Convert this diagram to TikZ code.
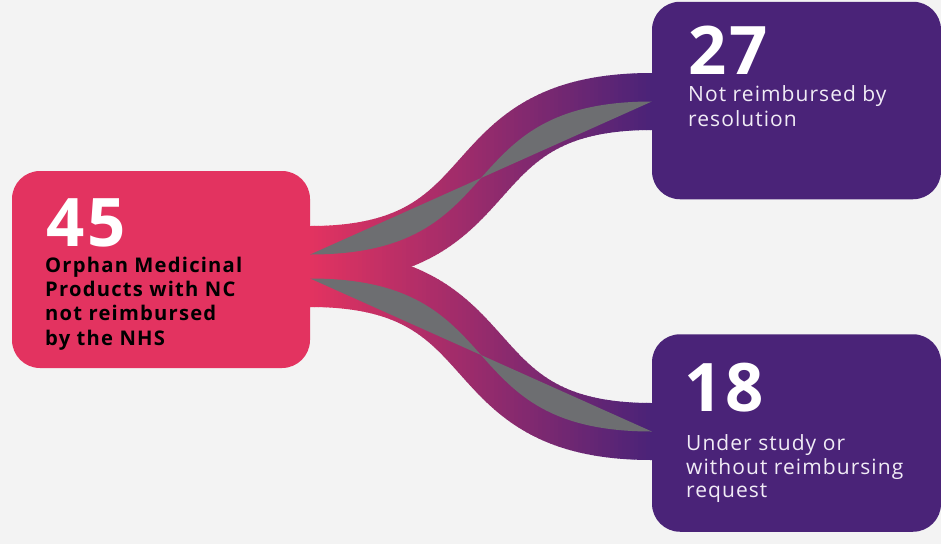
\documentclass[tikz,border=0pt]{standalone}
\usepackage{fontspec}
\setmainfont{Open Sans}
\usetikzlibrary{calc,backgrounds}
\definecolor{bgc}{HTML}{F3F3F3}
\definecolor{pinkc}{HTML}{E33360}
\definecolor{purpc}{HTML}{4A2378}
\definecolor{grayc}{HTML}{6D6E71}
\definecolor{lighttxt}{HTML}{F1ECF6}
\tikzset{
  box/.style={rounded corners=28pt, inner sep=0pt, draw=none},
  num/.style={anchor=base west, inner sep=0pt, text=white, text depth=0pt,
    font=\fontsize{67}{67}\selectfont\bfseries\addfontfeatures{LetterSpace=5}},
  dlbl/.style={anchor=base west, inner sep=0pt, text=black, text height=15pt,
    font=\fontsize{20.2}{24}\selectfont\bfseries\addfontfeatures{LetterSpace=6}},
  wlbl/.style={anchor=base west, inner sep=0pt, text=lighttxt, text height=16pt,
    font=\fontsize{21}{24}\selectfont\addfontfeatures{LetterSpace=5}},
}
\begin{document}
\begin{tikzpicture}[x=1pt,y=-1pt]
\useasboundingbox (0,0) rectangle (941,544);
% boxes
\node[box, fill=pinkc, minimum width=298pt, minimum height=197pt] (src) at (161,269.5) {};
\node[box, fill=purpc, minimum width=289pt, minimum height=197.5pt] (r1) at (796.5,100.5) {};
\node[box, fill=purpc, minimum width=289pt, minimum height=197.5pt] (r2) at (796.5,433) {};
% band end points
\coordinate (t0) at (src.east |- {(0,254.5)});
\coordinate (t1) at (r1.west |- {(0,101.5)});
\coordinate (b0) at (src.east |- {(0,278.5)});
\coordinate (b1) at (r2.west |- {(0,431.5)});
\begin{pgfonlayer}{background}
\fill[bgc] (0,0) rectangle (941,544);
\foreach \i in {0,...,87} {
  \pgfmathsetmacro\xa{306+4*\i}
  \pgfmathsetmacro\xb{\xa+4.7}
  \pgfmathsetmacro\p{max(0,min(100,(\xa+2-310)/3.42))}
  \begin{scope}
    \clip (\xa,0) rectangle (\xb,544);
    \draw[line width=57pt, purpc!\p!pinkc]
      ($(t0)+(-8,0)$) -- (t0) .. controls ($(t0)+(205,0)$) and ($(t1)+(-205,0)$) .. (t1) -- ($(t1)+(8,0)$);
    \draw[line width=57pt, purpc!\p!pinkc]
      ($(b0)+(-8,0)$) -- (b0) .. controls ($(b0)+(205,0)$) and ($(b1)+(-205,0)$) .. (b1) -- ($(b1)+(8,0)$);
  \end{scope}
}
\fill[grayc] (t0) .. controls ($(t0)+(205,0)$) and ($(t1)+(-205,0)$) .. (t1) -- cycle;
\fill[grayc] (b0) .. controls ($(b0)+(205,0)$) and ($(b1)+(-205,0)$) .. (b1) -- cycle;
\end{pgfonlayer}
% texts
\node[num] (n45) at (46,246.7) {45};
\node[dlbl] (s1) at (45,272.7) {Orphan Medicinal};
\node[dlbl] (s2) at (45,296.7) {Products with NC};
\node[dlbl] (s3) at (45,320.7) {not reimbursed};
\node[dlbl] (s4) at (45,345) {by the NHS};
\node[num] (n27) at (688,74) {27};
\node[wlbl] (a1) at (688,101.7) {Not reimbursed by};
\node[wlbl] (a2) at (688,126) {resolution};
\node[num] (n18) at (684,411.7) {18};
\node[wlbl] (c1) at (686,450.7) {Under study or};
\node[wlbl] (c2) at (686,474) {without reimbursing};
\node[wlbl] (c3) at (686,497.5) {request};
\end{tikzpicture}
\end{document}
